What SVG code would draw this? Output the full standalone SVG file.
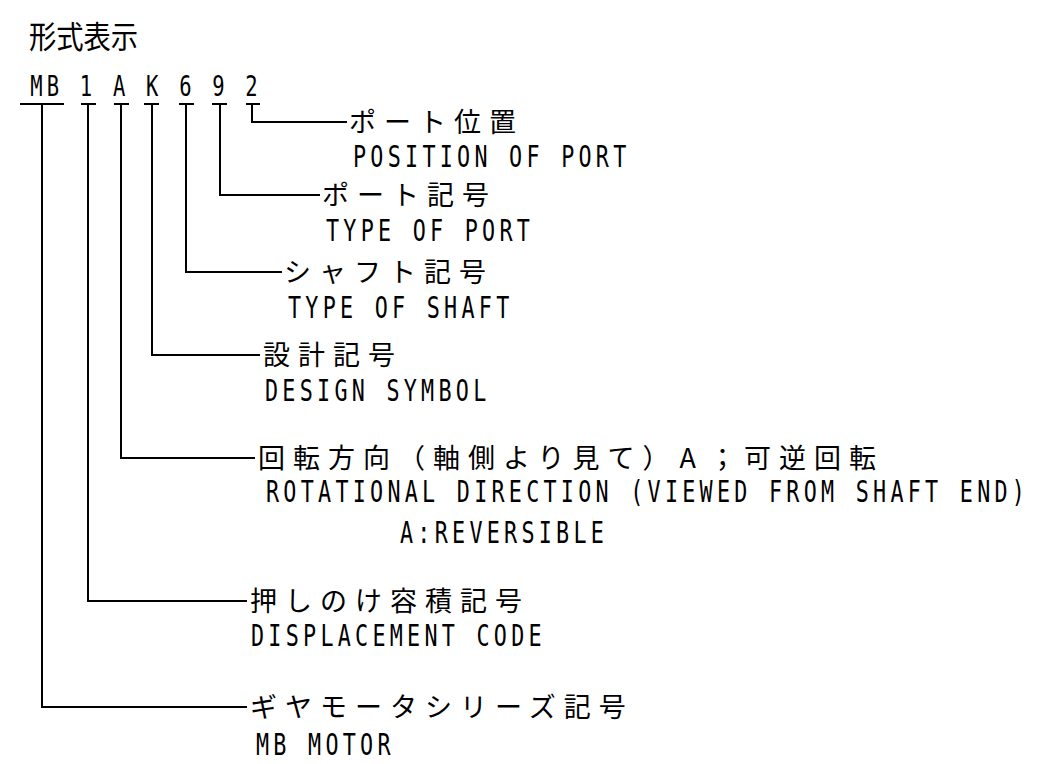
<svg xmlns="http://www.w3.org/2000/svg" width="1049" height="764" viewBox="0 0 1049 764">
<style>
.jp{font-family:"Noto Sans CJK JP","Noto Sans CJK SC",sans-serif;font-size:27px;letter-spacing:8px;fill:#000}
.ttl{font-family:"Noto Sans CJK JP","Noto Sans CJK SC",sans-serif;font-size:31px;fill:#000}
.en{font-family:"DejaVu Sans Mono","Liberation Mono",monospace;font-size:30.2px;letter-spacing:5.92px;fill:#000}
.code{font-family:"DejaVu Sans Mono","Liberation Mono",monospace;font-size:28.5px;letter-spacing:5.83px;fill:#000}
.ln{fill:none;stroke:#000;stroke-width:2}
</style>
<rect width="1049" height="764" fill="#fff"/>
<g id="title">
<text class="ttl" transform="translate(29,48) scale(0.88,1)">形式表示</text>
</g>
<g id="code">
<text class="code" transform="translate(30.2,96) scale(0.72,1)">MB 1 A K 6 9 2</text>
<path class="ln" d="M20,104H64M81,104H96M114,104H129M144,104H159M179,104H194M212,104H227M246,104H260"/>
</g>
<g id="connectors">
<path class="ln" d="M42,104V707H247"/>
<path class="ln" d="M88,104V601H247"/>
<path class="ln" d="M121,104V458H255"/>
<path class="ln" d="M152,104V355H260"/>
<path class="ln" d="M186,104V272H282"/>
<path class="ln" d="M220,104V195H320"/>
<path class="ln" d="M252,104V122H347"/>
</g>
<g id="port-position">
<text class="jp" x="349" y="132">ポート位置</text>
<text class="en" transform="translate(353,167) scale(0.72,1)">POSITION OF PORT</text>
</g>
<g id="port-type">
<text class="jp" x="322" y="205">ポート記号</text>
<text class="en" transform="translate(326,241) scale(0.72,1)">TYPE OF PORT</text>
</g>
<g id="shaft-type">
<text class="jp" x="284" y="282">シャフト記号</text>
<text class="en" transform="translate(288,318) scale(0.72,1)">TYPE OF SHAFT</text>
</g>
<g id="design-symbol">
<text class="jp" x="263" y="365">設計記号</text>
<text class="en" transform="translate(265,401) scale(0.72,1)">DESIGN SYMBOL</text>
</g>
<g id="rotation">
<text class="jp" x="258" y="468">回転方向（軸側より見て）<tspan dx="2">A</tspan><tspan dx="5">；可逆回転</tspan></text>
<text class="en" transform="translate(266,502) scale(0.72,1)">ROTATIONAL DIRECTION (VIEWED FROM SHAFT END)</text>
<text class="en" transform="translate(400,543) scale(0.72,1)">A:REVERSIBLE</text>
</g>
<g id="displacement">
<text class="jp" x="250" y="611">押しのけ容積記号</text>
<text class="en" transform="translate(251,646) scale(0.72,1)">DISPLACEMENT CODE</text>
</g>
<g id="series">
<text class="jp" x="250" y="717">ギヤモータシリーズ記号</text>
<text class="en" transform="translate(256,755) scale(0.72,1)">MB MOTOR</text>
</g>
</svg>
